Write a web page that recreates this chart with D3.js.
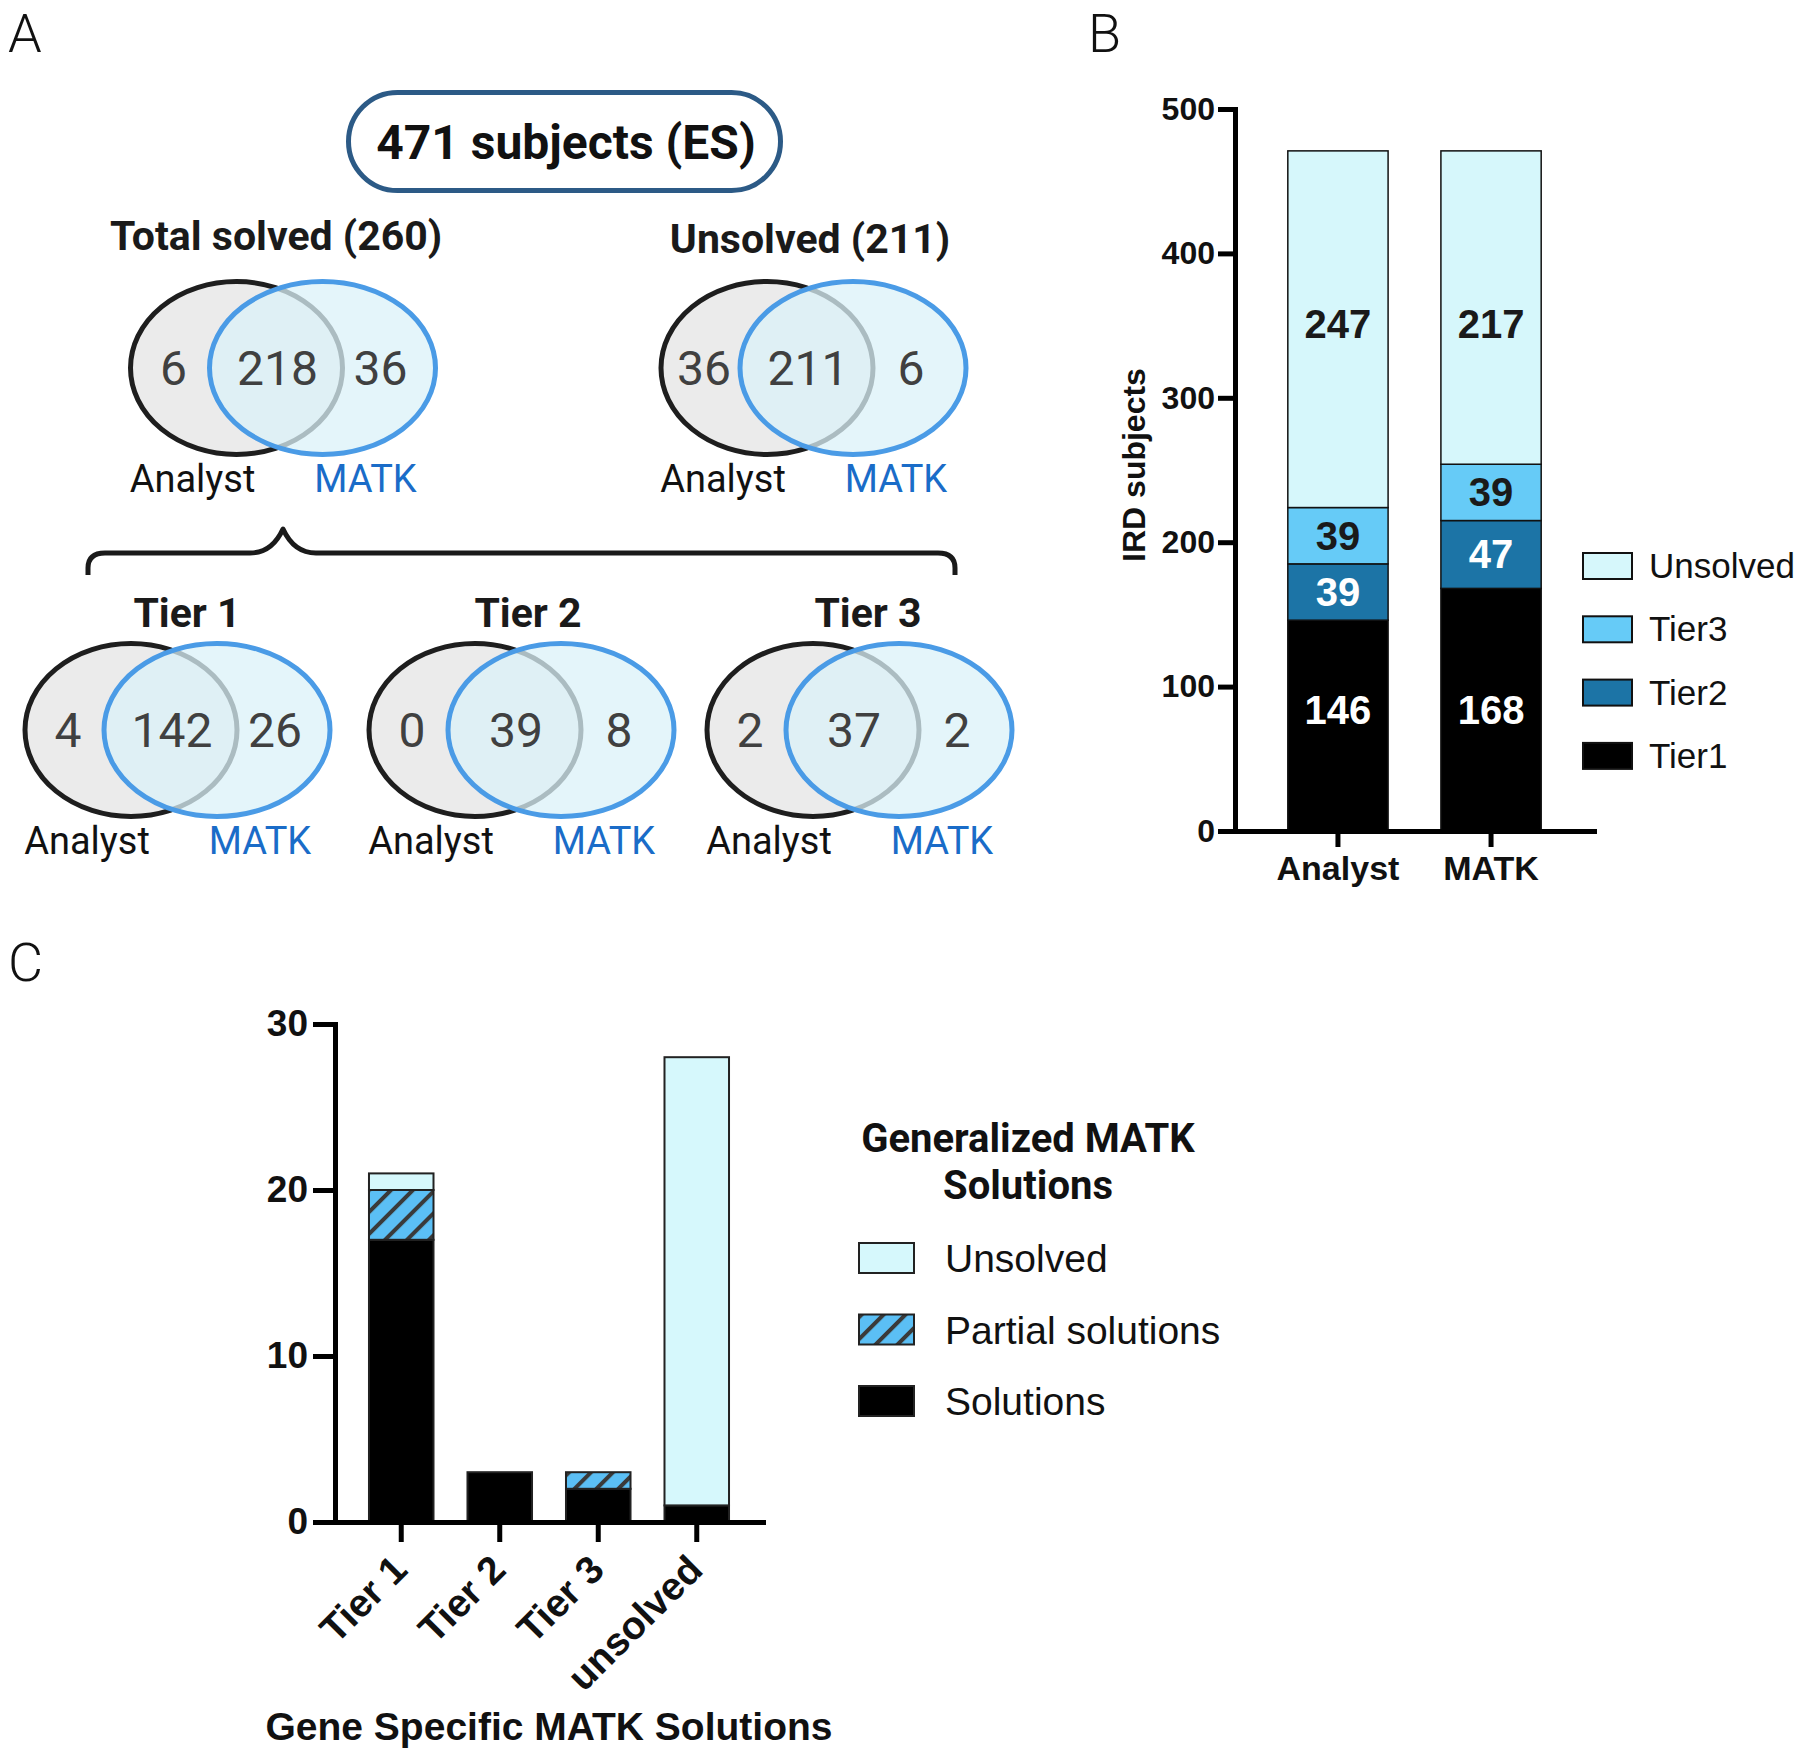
<!DOCTYPE html>
<html><head><meta charset="utf-8">
<script src="https://cdn.jsdelivr.net/npm/d3@7"></script>
<style>body{margin:0;background:#fff} svg{display:block}</style>
</head><body>
<svg id="fig" width="1800" height="1761"></svg>
<script>
// ---------- Panel A data ----------
const headerLabel = "471 subjects (ES)";
const vennTitles = ["Total solved (260)", "Unsolved (211)", "Tier 1", "Tier 2", "Tier 3"];
const vennAnalystOnly = [6, 36, 4, 0, 2];
const vennShared = [218, 211, 142, 39, 37];
const vennMatkOnly = [36, 6, 26, 8, 2];
const vennSetNames = ["Analyst", "MATK"];

// ---------- Panel B data ----------
const bCategories = ["Analyst", "MATK"];
const bSeries = ["Tier1", "Tier2", "Tier3", "Unsolved"];
const bTier1 = [146, 168];
const bTier2 = [39, 47];
const bTier3 = [39, 39];
const bUnsolved = [247, 217];
const bTicks = [0, 100, 200, 300, 400, 500];
const bYLabel = "IRD subjects";

// ---------- Panel C data ----------
const cCategories = ["Tier 1", "Tier 2", "Tier 3", "unsolved"];
const cSeries = ["Solutions", "Partial solutions", "Unsolved"];
const cSolutions = [17, 3, 2, 1];
const cPartial = [3, 0, 1, 0];
const cUnsolved = [1, 0, 0, 27];
const cTicks = [0, 10, 20, 30];
const cXLabel = "Gene Specific MATK Solutions";
const cLegendTitle = ["Generalized MATK", "Solutions"];

// ---------- setup ----------
const svg = d3.select("#fig");
const ROBOTO = "Roboto, 'Noto Sans', sans-serif";
const ARIAL = "'Liberation Sans', Arial, sans-serif";
const defs = svg.append("defs");
const hatch = defs.append("pattern").attr("id", "hatch")
  .attr("patternUnits", "userSpaceOnUse").attr("width", 15.5).attr("height", 15.5)
  .attr("patternTransform", "rotate(45)");
hatch.append("rect").attr("width", 15.5).attr("height", 15.5).attr("fill", "#5bbff5");
hatch.append("rect").attr("x", 0).attr("width", 4).attr("height", 15.5).attr("fill", "#3a3a3a");

// panel letters
[["A", 8, 52], ["B", 1088, 52], ["C", 8, 981]].forEach(([t, x, y]) => {
  svg.append("text").attr("x", x).attr("y", y).text(t)
    .attr("font-family", ROBOTO).attr("font-weight", 300).attr("font-size", 54).attr("fill", "#111");
});

// ---------- Panel A ----------
const gA = svg.append("g");
gA.append("rect").attr("x", 348.5).attr("y", 92.5).attr("width", 432).attr("height", 98)
  .attr("rx", 49).attr("ry", 49).attr("fill", "#fff").attr("stroke", "#2c5a86").attr("stroke-width", 5);
gA.append("text").attr("x", 566).attr("y", 159).attr("text-anchor", "middle").text(headerLabel)
  .attr("font-family", ROBOTO).attr("font-weight", 700).attr("font-size", 48).attr("fill", "#111");

const vennLayout = [
  {mx: 279.5, cy: 368, tx: 276, ty: 250},
  {mx: 810, cy: 368, tx: 810, ty: 253},
  {mx: 174, cy: 730, tx: 187, ty: 627},
  {mx: 518, cy: 730, tx: 528, ty: 627},
  {mx: 856, cy: 730, tx: 868, ty: 627}
];
const vennData = vennTitles.map((t, i) => ({
  title: t, values: [vennAnalystOnly[i], vennShared[i], vennMatkOnly[i]], ...vennLayout[i]
}));
const numOffsets = [-106, -2, 101];

vennData.forEach(d => {
  gA.append("text").attr("x", d.tx).attr("y", d.ty).attr("text-anchor", "middle").text(d.title)
    .attr("font-family", ROBOTO).attr("font-weight", 700).attr("font-size", 41).attr("fill", "#1a1a1a");
  const g = gA.append("g").attr("transform", `translate(${d.mx},${d.cy})`);
  g.append("ellipse").attr("cx", -43).attr("cy", 0).attr("rx", 106).attr("ry", 86.5)
    .attr("fill", "#ebebeb").attr("stroke", "#1e1e1e").attr("stroke-width", 5);
  g.append("ellipse").attr("cx", 43).attr("cy", 0).attr("rx", 113).attr("ry", 86.5)
    .attr("fill", "rgb(219,242,248)").attr("fill-opacity", 0.75)
    .attr("stroke", "#4a9be6").attr("stroke-width", 5);
  g.selectAll("text.num").data(d.values).join("text").attr("class", "num")
    .attr("x", (v, i) => numOffsets[i]).attr("y", 17).attr("text-anchor", "middle").text(v => v)
    .attr("font-family", ROBOTO).attr("font-weight", 400).attr("font-size", 48).attr("fill", "#404040");
  g.selectAll("text.set").data(vennSetNames).join("text").attr("class", "set")
    .attr("x", (v, i) => i === 0 ? -87 : 86).attr("y", 124).attr("text-anchor", "middle").text(v => v)
    .attr("font-family", ROBOTO).attr("font-weight", 400).attr("font-size", 38)
    .attr("fill", (v, i) => i === 0 ? "#111" : "#1a6cc8");
});

// brace
const brace = d3.path();
brace.moveTo(88, 575);
brace.lineTo(88, 568);
brace.quadraticCurveTo(88, 553, 105, 553);
brace.lineTo(250, 553);
brace.quadraticCurveTo(272, 553, 283, 529);
brace.quadraticCurveTo(294, 553, 316, 553);
brace.lineTo(938, 553);
brace.quadraticCurveTo(955, 553, 955, 568);
brace.lineTo(955, 575);
gA.append("path").attr("d", brace.toString()).attr("fill", "none")
  .attr("stroke", "#1a1a1a").attr("stroke-width", 5).attr("stroke-linejoin", "round");

// ---------- Panel B ----------
const gB = svg.append("g");
const bColors = {Tier1: "#000000", Tier2: "#1c74a6", Tier3: "#66cbf7", Unsolved: "#d6f7fb"};
const bTextColors = {Tier1: "#fff", Tier2: "#fff", Tier3: "#1a1a1a", Unsolved: "#1a1a1a"};
const bY = d3.scaleLinear().domain([0, 500]).range([831, 109]);
const bX = d3.scaleBand().domain(bCategories).range([1235, 1594]).padding(0.345);
const bRows = bCategories.map((c, i) => ({cat: c, Tier1: bTier1[i], Tier2: bTier2[i], Tier3: bTier3[i], Unsolved: bUnsolved[i]}));
const bStack = d3.stack().keys(bSeries)(bRows);

bStack.forEach((layer, li) => {
  const key = layer.key;
  // bottom and top series labels share one row across bars; middle ones sit at segment centres
  const shared = (li === 0 || li === bStack.length - 1);
  const meanMid = d3.mean(layer, d => (d[0] + d[1]) / 2);
  gB.selectAll(null).data(layer).join("rect")
    .attr("x", d => bX(d.data.cat)).attr("width", bX.bandwidth())
    .attr("y", d => bY(d[1])).attr("height", d => bY(d[0]) - bY(d[1]))
    .attr("fill", bColors[key]).attr("stroke", "#111").attr("stroke-width", 1.5);
  gB.selectAll(null).data(layer).join("text")
    .attr("x", d => bX(d.data.cat) + bX.bandwidth() / 2)
    .attr("y", d => bY(shared ? meanMid : (d[0] + d[1]) / 2) + 14 + (li === 0 ? -8 : li === bStack.length - 1 ? 6 : 0))
    .attr("text-anchor", "middle").text(d => d[1] - d[0])
    .attr("font-family", ARIAL).attr("font-weight", 700).attr("font-size", 40).attr("fill", bTextColors[key]);
});

const bAxisY = gB.append("g").attr("transform", "translate(1235,0)")
  .call(d3.axisLeft(bY).tickValues(bTicks).tickSize(17).tickSizeOuter(0).tickPadding(3));
const bAxisX = gB.append("g").attr("transform", "translate(0,831)")
  .call(d3.axisBottom(bX).tickSize(16).tickSizeOuter(0).tickPadding(9));
[bAxisY, bAxisX].forEach(a => {
  a.select(".domain").attr("stroke", "#000").attr("stroke-width", 5).attr("stroke-linecap", "square");
  a.selectAll(".tick line").attr("stroke", "#000").attr("stroke-width", 5);
  a.selectAll(".tick text").attr("font-family", ARIAL).attr("font-weight", 700).attr("fill", "#111");
});
bAxisY.selectAll(".tick text").attr("font-size", 32);
bAxisX.selectAll(".tick text").attr("font-size", 34);
gB.append("text").attr("transform", "translate(1145,465) rotate(-90)").attr("text-anchor", "middle")
  .text(bYLabel).attr("font-family", ARIAL).attr("font-weight", 700).attr("font-size", 32).attr("fill", "#111");

// legend B (top to bottom: reversed series)
const bLegend = bSeries.slice().reverse();
const bLeg = gB.selectAll("g.bleg").data(bLegend).join("g").attr("class", "bleg")
  .attr("transform", (d, i) => `translate(1583,${553 + i * 63.3})`);
bLeg.append("rect").attr("width", 49).attr("height", 26).attr("fill", d => bColors[d])
  .attr("stroke", "#111").attr("stroke-width", 2);
bLeg.append("text").attr("x", 66).attr("y", 25).text(d => d)
  .attr("font-family", ARIAL).attr("font-size", 35).attr("fill", "#111");

// ---------- Panel C ----------
const gC = svg.append("g");
const cFills = {"Solutions": "#000000", "Partial solutions": "url(#hatch)", "Unsolved": "#d6f8fc"};
const cY = d3.scaleLinear().domain([0, 30]).range([1522, 1024]);
const cX = d3.scaleBand().domain(cCategories).range([335, 763]).padding(0.345);
const cRows = cCategories.map((c, i) => ({cat: c, "Solutions": cSolutions[i], "Partial solutions": cPartial[i], "Unsolved": cUnsolved[i]}));
const cStack = d3.stack().keys(cSeries)(cRows);
cStack.forEach(layer => {
  gC.selectAll(null).data(layer.filter(d => d[1] > d[0])).join("rect")
    .attr("x", d => cX(d.data.cat)).attr("width", cX.bandwidth())
    .attr("y", d => cY(d[1])).attr("height", d => cY(d[0]) - cY(d[1]))
    .attr("fill", cFills[layer.key]).attr("stroke", "#222").attr("stroke-width", 2);
});
const cAxisY = gC.append("g").attr("transform", "translate(335,0)")
  .call(d3.axisLeft(cY).tickValues(cTicks).tickSize(22).tickSizeOuter(0).tickPadding(5));
const cAxisX = gC.append("g").attr("transform", "translate(0,1522)")
  .call(d3.axisBottom(cX).tickSize(20).tickSizeOuter(0).tickFormat(""));
[cAxisY, cAxisX].forEach(a => {
  a.select(".domain").attr("stroke", "#000").attr("stroke-width", 5).attr("stroke-linecap", "square");
  a.selectAll(".tick line").attr("stroke", "#000").attr("stroke-width", 5);
});
cAxisY.selectAll(".tick text").attr("font-family", ARIAL).attr("font-weight", 700)
  .attr("font-size", 37).attr("fill", "#111");
gC.selectAll("text.cx").data(cCategories).join("text").attr("class", "cx")
  .attr("transform", d => `translate(${cX(d) + cX.bandwidth() / 2 + 8},1572) rotate(-45)`)
  .attr("text-anchor", "end").text(d => d)
  .attr("font-family", ARIAL).attr("font-weight", 700).attr("font-size", 39).attr("fill", "#111");
gC.append("text").attr("x", 549).attr("y", 1740).attr("text-anchor", "middle").text(cXLabel)
  .attr("font-family", ARIAL).attr("font-weight", 700).attr("font-size", 39).attr("fill", "#111");

// legend C
gC.selectAll("text.ct").data(cLegendTitle).join("text").attr("class", "ct")
  .attr("x", 1028).attr("y", (d, i) => 1152 + i * 47).attr("text-anchor", "middle").text(d => d)
  .attr("font-family", ROBOTO).attr("font-weight", 700).attr("font-size", 40).attr("fill", "#111");
const cLegend = cSeries.slice().reverse();
const cLeg = gC.selectAll("g.cleg").data(cLegend).join("g").attr("class", "cleg")
  .attr("transform", (d, i) => `translate(859,${1243 + i * 71.5})`);
cLeg.append("rect").attr("width", 55).attr("height", 30).attr("fill", d => cFills[d])
  .attr("stroke", "#222").attr("stroke-width", 2);
cLeg.append("text").attr("x", 86).attr("y", 29).text(d => d)
  .attr("font-family", ARIAL).attr("font-size", 39).attr("fill", "#111");
</script>
</body></html>
